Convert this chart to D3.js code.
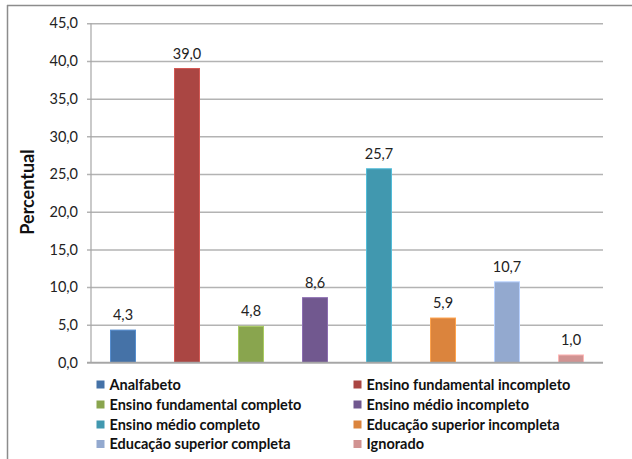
<!DOCTYPE html>
<html>
<head>
<meta charset="utf-8">
<script src="https://cdn.jsdelivr.net/npm/d3@7"></script>
<style>
  html, body { margin: 0; padding: 0; background: #fff; }
  svg { display: block; }
  text { font-family: Lato, "Open Sans", sans-serif; }
</style>
</head>
<body>
<svg id="chart" width="632" height="459"></svg>
<script>
// Escolaridade (percentual)
const categories = [
  "Analfabeto",
  "Ensino fundamental incompleto",
  "Ensino fundamental completo",
  "Ensino médio incompleto",
  "Ensino médio completo",
  "Educação superior incompleta",
  "Educação superior completa",
  "Ignorado"
];
const values = [4.3, 39.0, 4.8, 8.6, 25.7, 5.9, 10.7, 1.0];
const colors = ["#4572A7", "#AA4643", "#89A54E", "#71588F", "#4198AF", "#DB843D", "#93A9CF", "#D19392"];
const yTicks = [0, 5, 10, 15, 20, 25, 30, 35, 40, 45];
const yTitle = "Percentual";

const fmt = v => d3.format(".1f")(v).replace(".", ",");

const svg = d3.select("#chart");

// outer frame (top and left edges visible)
svg.append("line").attr("x1", 7).attr("x2", 632).attr("y1", 5.5).attr("y2", 5.5)
  .attr("stroke", "#8c8c8c").attr("stroke-width", 1.5);
svg.append("line").attr("x1", 7.5).attr("x2", 7.5).attr("y1", 5).attr("y2", 459)
  .attr("stroke", "#8c8c8c").attr("stroke-width", 1.5);

const plot = { left: 91, right: 603, top: 23.3, bottom: 362.5 };

const x = d3.scaleBand()
  .domain(categories)
  .range([plot.left, plot.right])
  .paddingInner(0.61)
  .paddingOuter(0.305);

const y = d3.scaleLinear()
  .domain([0, 45])
  .range([plot.bottom, plot.top]);

// gridlines + y axis
const yAxis = d3.axisLeft(y)
  .tickValues(yTicks)
  .tickFormat(fmt)
  .tickSize(-(plot.right - plot.left))
  .tickPadding(13);

const gy = svg.append("g")
  .attr("transform", `translate(${plot.left},0)`)
  .call(yAxis);
gy.select(".domain").remove();
gy.selectAll(".tick line")
  .attr("x1", -4)
  .attr("stroke", "#b3b3b3")
  .attr("stroke-width", 1.5);
gy.selectAll(".tick text")
  .attr("fill", "#222")
  .attr("font-size", 14.5)
  .attr("font-family", "Lato, sans-serif");

// vertical axis line
svg.append("line")
  .attr("x1", plot.left).attr("x2", plot.left)
  .attr("y1", plot.top).attr("y2", plot.bottom)
  .attr("stroke", "#a6a6a6").attr("stroke-width", 1.2);

// bars
svg.append("g").selectAll("rect")
  .data(values)
  .join("rect")
  .attr("x", (d, i) => x(categories[i]))
  .attr("width", x.bandwidth())
  .attr("y", d => y(d))
  .attr("height", d => y(0) - y(d))
  .attr("fill", (d, i) => colors[i])
  .attr("stroke", (d, i) => d3.color(colors[i]).brighter(0.6))
  .attr("stroke-width", 1);

// baseline
svg.append("line")
  .attr("x1", plot.left - 4).attr("x2", plot.right)
  .attr("y1", y(0)).attr("y2", y(0))
  .attr("stroke", "#a6a6a6").attr("stroke-width", 1.5);

// value labels
svg.append("g").selectAll("text")
  .data(values)
  .join("text")
  .attr("x", (d, i) => x(categories[i]) + x.bandwidth() / 2)
  .attr("y", d => y(d) - 10)
  .attr("text-anchor", "middle")
  .attr("font-size", 14.5)
  .attr("fill", "#222")
  .text(fmt);

// y title
svg.append("text")
  .attr("transform", `translate(34,192) rotate(-90)`)
  .attr("text-anchor", "middle")
  .attr("font-size", 18)
  .attr("font-weight", "bold")
  .attr("fill", "#111")
  .text(yTitle);

// legend: two columns
const legendCols = [96.5, 353.5];
const legendRows = [384.5, 404.5, 424.5, 444];
const lg = svg.append("g").selectAll("g")
  .data(categories)
  .join("g")
  .attr("transform", (d, i) => `translate(${legendCols[i % 2]},${legendRows[Math.floor(i / 2)]})`);
lg.append("rect")
  .attr("x", 0).attr("y", -4).attr("width", 8).attr("height", 8)
  .attr("fill", (d, i) => colors[i]);
lg.append("text")
  .attr("x", 13)
  .attr("y", 0)
  .attr("dy", "0.36em")
  .attr("font-size", 14.5)
  .attr("font-weight", "bold")
  .attr("fill", "#111")
  .text(d => d);
</script>
</body>
</html>
